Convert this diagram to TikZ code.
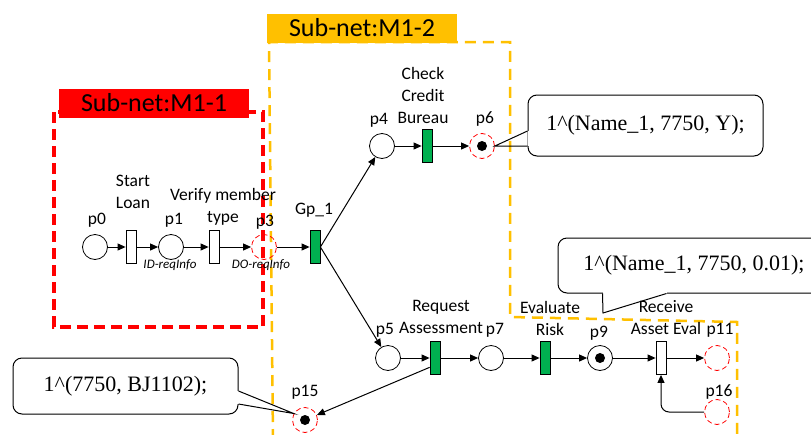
\documentclass[tikz,border=0pt]{standalone}
\usepackage{fontspec}
\setmainfont{Liberation Serif}
\newfontfamily\calibri{Carlito}
\usetikzlibrary{arrows.meta}
\definecolor{netgreen}{HTML}{00B050}
\definecolor{netorange}{HTML}{FFC000}
\definecolor{netred}{HTML}{FF0000}
\tikzset{
    place/.style={draw, circle, minimum size=25pt, inner sep=0, fill=white, line width=0.8pt},
    openplace/.style={draw=netred, circle, dash pattern=on 5pt off 3pt, minimum size=25pt, inner sep=0, line width=0.8pt},
    marked/.style={path picture={\fill[black] (path picture bounding box.center) circle (5pt);}},
    trans/.style={draw, fill=white, minimum width=10pt, minimum height=33pt, inner sep=0, line width=0.8pt},
    gtrans/.style={trans, fill=netgreen},
    lbl/.style={font=\calibri\fontsize{17.5}{22}\selectfont, align=center, inner sep=0},
    note/.style={font=\calibri\itshape\fontsize{13}{15}\selectfont, inner sep=0},
    arc/.style={-{Triangle[length=8pt,width=7pt]}, line width=1pt},
    callbox/.style={draw, rounded corners=9pt, fill=white, line width=1pt, font=\fontsize{22}{24}\selectfont, inner sep=0},
    subnet/.style={font=\calibri\fontsize{26}{30}\selectfont, inner sep=0, minimum height=29pt, minimum width=190pt},
}
\begin{document}
\begin{tikzpicture}[x=1pt, y=-1pt]
    \useasboundingbox (0,0) rectangle (811,434);
    % sub-net borders
    \draw[netred, line width=3.5pt, dash pattern=on 11pt off 6pt] (54,112) rectangle (263,327);
    \draw[netorange, line width=2.5pt, dash pattern=on 11pt off 7pt] (273,440) -- (269,42) -- (510,42) -- (510,317) -- (737,322) -- (737,440);
    \node[subnet, fill=netred] (m11) at (154,103) {Sub-net:M1-1};
    \node[subnet, fill=netorange] (m12) at (362,28) {Sub-net:M1-2};

    \node[place] (p0) at (95,247) {};
    \node[trans] (t0) at (131,247) {};
    \node[place] (p1) at (171,247) {};
    \node[trans] (t1) at (214,247) {};
    \node[openplace] (p3) at (264,247) {};
    \node[gtrans] (gp1) at (315,247) {};
    \node[place] (p4) at (382,146) {};
    \node[gtrans] (t4) at (427,146) {};
    \node[openplace, marked] (p6) at (482,146) {};
    \node[place] (p5) at (388,358) {};
    \node[gtrans] (t5) at (435,358) {};
    \node[place] (p7) at (491,358) {};
    \node[gtrans] (t7) at (545,358) {};
    \node[place, marked] (p9) at (600,358) {};
    \node[trans] (t9) at (661,358) {};
    \node[openplace] (p11) at (717,358) {};
    \node[openplace] (p16) at (717,412) {};
    \node[openplace, marked] (p15) at (305,420) {};

    \node[lbl] (lp0) at (97,220) {p0};
    \node[lbl] (lt0) at (133,192) {Start\\Loan};
    \node[lbl] (lp1) at (174,220) {p1};
    \node[lbl] (lt1) at (223,207) {Verify member\\type};
    \node[lbl] (lp3) at (265,222) {p3};
    \node[lbl] (lgp1) at (314,210) {Gp\_1};
    \node[lbl] (lp4) at (379,120) {p4};
    \node[lbl] (lt4) at (423,95) {Check\\Credit\\Bureau};
    \node[lbl] (lp6) at (485,119) {p6};
    \node[lbl] (lp5) at (385,330) {p5};
    \node[lbl] (lt5) at (441,317) {Request\\Assessment};
    \node[lbl] (lp7) at (495,330) {p7};
    \node[lbl] (lt7) at (550,318) {Evaluate\\Risk};
    \node[lbl] (lp9) at (599,333) {p9};
    \node[lbl] (lt9) at (666,318) {Receive\\Asset Eval};
    \node[lbl] (lp11) at (720,330) {p11};
    \node[lbl] (lp16) at (719,392) {p16};
    \node[lbl] (lp15) at (305,392) {p15};
    \node[note] (n1) at (170,265) {ID-reqInfo};
    \node[note] (n2) at (261,265) {DO-reqInfo};

    \draw[arc] (p0) -- (t0);
    \draw[arc] (t0) -- (p1);
    \draw[arc] (p1) -- (t1);
    \draw[arc] (t1) -- (p3);
    \draw[arc] (p3) -- (gp1);
    \draw[arc] (gp1.east) -- (p4);
    \draw[arc] (gp1.east) -- (p5);
    \draw[arc] (p4) -- (t4);
    \draw[arc] (t4) -- (p6);
    \draw[arc] (p5) -- (t5);
    \draw[arc] (t5) -- (p7);
    \draw[arc] (p7) -- (t7);
    \draw[arc] (t7) -- (p9);
    \draw[arc] (p9) -- (t9);
    \draw[arc] (t9) -- (p11);
    \draw[arc] (t5.240) -- (p15);
    \draw[arc, rounded corners=8pt] (p16) -| (t9);

    % token callouts
    \node[callbox, minimum width=235pt, minimum height=61pt] (c6) at (645.5,125.5) {1\textasciicircum(Name\_1, 7750, Y);};
    \fill[white] ([shift={(0,5.5)}]c6.west) rectangle ([shift={(2,20.5)}]c6.west);
    \draw[line width=1pt] ([shift={(0,5.5)}]c6.west) -- (p6.east) -- ([shift={(0,20.5)}]c6.west);

    \node[callbox, minimum width=272pt, minimum height=55pt] (c9) at (694,265.5) {1\textasciicircum(Name\_1, 7750, 0.01);};
    \coordinate (c9tip) at (603,313);
    \fill[white] ([shift={(45,0)}]c9.south west) rectangle ([shift={(109,-2)}]c9.south west);
    \draw[line width=1pt] ([shift={(45,0)}]c9.south west) -- (c9tip) -- ([shift={(109,0)}]c9.south west);

    \node[callbox, minimum width=225pt, minimum height=56pt] (c15) at (125.5,386) {1\textasciicircum(7750, BJ1102);};
    \fill[white] ([shift={(0,5)}]c15.east) rectangle ([shift={(-2,18)}]c15.east);
    \draw[line width=1pt] ([shift={(0,5)}]c15.east) -- (p15.150) -- ([shift={(0,18)}]c15.east);
\end{tikzpicture}
\end{document}
